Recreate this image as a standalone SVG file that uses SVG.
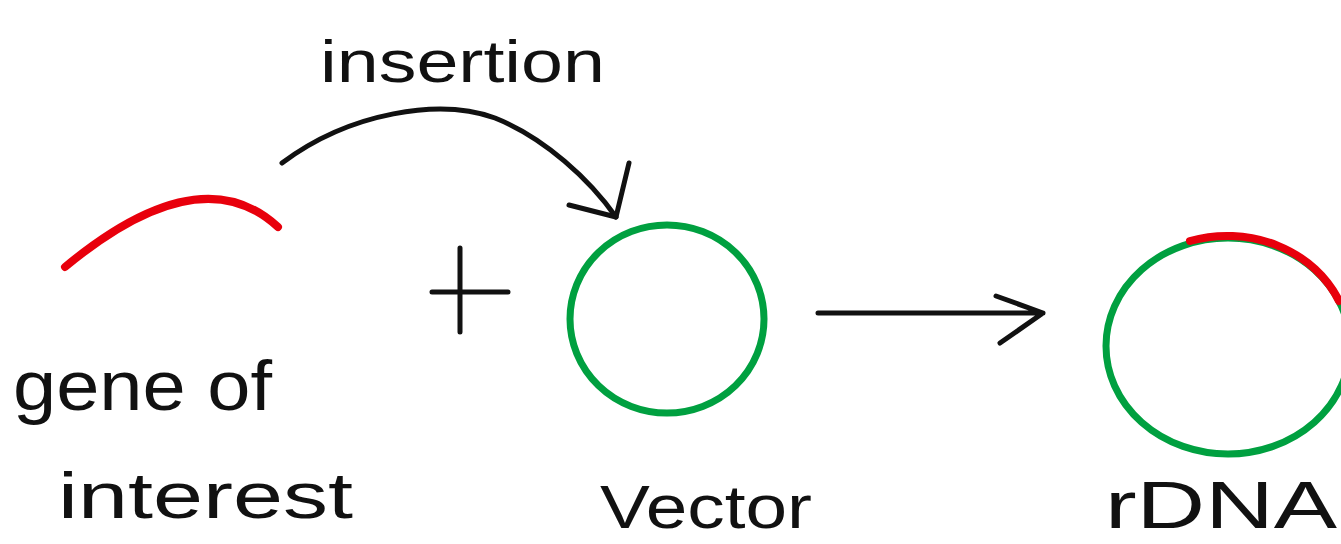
<svg xmlns="http://www.w3.org/2000/svg" width="1341" height="544" viewBox="0 0 1341 544">
<style>
.lbl{font-family:"Liberation Sans","DejaVu Sans",sans-serif;fill:#111;}
.ink{fill:none;stroke:#111;stroke-width:5;stroke-linecap:round;stroke-linejoin:round;}
.gene{fill:none;stroke:#e8000c;stroke-width:8;stroke-linecap:round;}
.vec{fill:none;stroke:#00a040;stroke-width:7;}
</style>
<rect width="1341" height="544" fill="#fff"/>
<g id="gene">
  <path class="gene" d="M65,267 Q200,155 278,227"/>
  <text class="lbl" x="13" y="410" font-size="70" textLength="259" lengthAdjust="spacingAndGlyphs">gene of</text>
  <text class="lbl" x="58" y="518" font-size="64" textLength="295" lengthAdjust="spacingAndGlyphs">interest</text>
</g>
<g id="plus">
  <path class="ink" d="M460,248 V332 M432,292 H508"/>
</g>
<g id="vector">
  <ellipse class="vec" cx="667" cy="319" rx="97" ry="94"/>
  <text class="lbl" x="600" y="528" font-size="62" textLength="212" lengthAdjust="spacingAndGlyphs">Vector</text>
</g>
<g id="rdna">
  <ellipse class="vec" cx="1228" cy="346" rx="122" ry="108"/>
  <path class="gene" stroke-linecap="butt" d="M1190,241 A122,108 0 0,1 1339,301"/>
  <text class="lbl" x="1105" y="528" font-size="66" textLength="232" lengthAdjust="spacingAndGlyphs">rDNA</text>
</g>
<g id="connectors">
  <g id="insertion">
    <path class="ink" d="M282,163 C350,112 440,98 495,118 C545,138 590,180 616,217"/>
    <path class="ink" d="M629,163 L616,217 L569,205"/>
    <text class="lbl" x="320" y="82" font-size="60" textLength="285" lengthAdjust="spacingAndGlyphs">insertion</text>
  </g>
  <g id="arrow">
    <path class="ink" d="M818,313 H1043 M996,296 L1043,313 L1000,343"/>
  </g>
</g>
</svg>
